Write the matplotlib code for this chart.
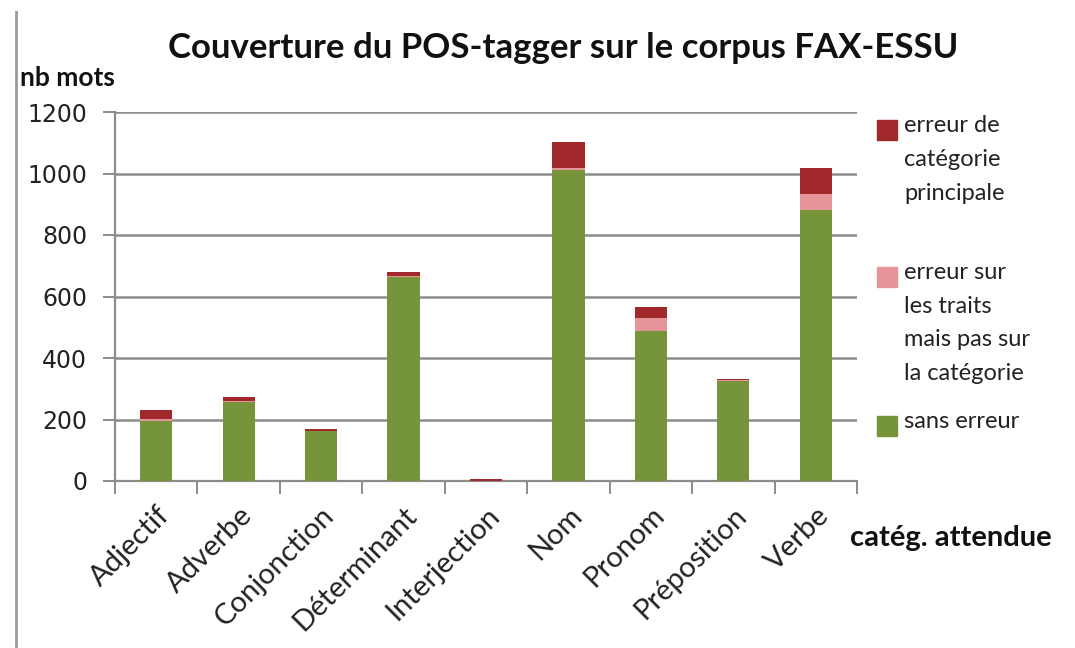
import matplotlib
matplotlib.use("Agg")
import matplotlib.pyplot as plt
from matplotlib.patches import Rectangle
from matplotlib.lines import Line2D
import numpy as np

categories = ["Adjectif", "Adverbe", "Conjonction", "Déterminant", "Interjection",
              "Nom", "Pronom", "Préposition", "Verbe"]
sans_erreur = [195, 258, 163, 663, 0, 1010, 488, 325, 880]
erreur_traits = [8, 2, 1, 3, 0, 8, 43, 2, 52]
erreur_categorie = [27, 12, 5, 15, 6, 85, 35, 5, 85]

series_labels = ["erreur de\ncatégorie\nprincipale",
                 "erreur sur\nles traits\nmais pas sur\nla catégorie",
                 "sans erreur"]
col_green = "#76953a"
col_pink = "#e5949a"
col_red = "#a2292b"

plt.rcParams['font.family'] = ['Lato', 'DejaVu Sans']

fig = plt.figure(figsize=(10.75, 6.48), dpi=100)
W, H = 1075, 648
ax = fig.add_axes([115 / W, 1 - 481 / H, (857 - 115) / W, (481 - 112) / H])

x = np.arange(len(categories))
bw = 0.39
g = np.array(sans_erreur)
p = np.array(erreur_traits)
r = np.array(erreur_categorie)
ax.bar(x, g, bw, color=col_green, zorder=3)
ax.bar(x, p, bw, bottom=g, color=col_pink, zorder=3)
ax.bar(x, r, bw, bottom=g + p, color=col_red, zorder=3)

ax.set_xlim(-0.5, len(categories) - 0.5)
ax.set_ylim(0, 1200)
ax.set_yticks(np.arange(0, 1201, 200))
ax.yaxis.grid(True, color="#8c8c8c", linewidth=1.8, zorder=0)
ax.set_axisbelow(True)
for s in ["top", "right"]:
    ax.spines[s].set_visible(False)
ax.spines["left"].set_color("#8c8c8c")
ax.spines["left"].set_linewidth(1.6)
ax.spines["bottom"].set_color("#8c8c8c")
ax.spines["bottom"].set_linewidth(1.6)

ax.tick_params(axis="y", length=9, width=1.4, color="#8c8c8c", labelsize=17,
               labelcolor="#222222", pad=11)
for t in ax.get_yticklabels():
    t.set_family("DejaVu Sans")

ax.set_xticks(x)
ax.set_xticklabels(categories, rotation=45, ha="right", rotation_mode="anchor",
                   fontsize=21, color="#222222")
ax.tick_params(axis="x", which="major", length=0, pad=15)
ax.set_xticks(np.arange(-0.5, len(categories), 1.0), minor=True)
ax.tick_params(axis="x", which="minor", length=9, width=1.4, color="#8c8c8c")

fig.text(563 / W, 1 - 48 / H, "Couverture du POS-tagger sur le corpus FAX-ESSU",
         ha="center", va="center", fontsize=25, fontweight="bold", color="#111111")
fig.text(20 / W, 1 - 78 / H, "nb mots", ha="left", va="center",
         fontsize=19, fontweight="bold", color="#111111")
fig.text(850 / W, 1 - 538 / H, "catég. attendue", ha="left", va="center",
         fontsize=21, fontweight="bold", color="#111111")

# legend
leg_items = [(col_red, series_labels[0], 130),
             (col_pink, series_labels[1], 277),
             (col_green, series_labels[2], 426)]
for c, lab, yy in leg_items:
    fig.patches.append(Rectangle((877 / W, 1 - (yy + 10) / H), 20 / W, 20 / H,
                                 transform=fig.transFigure, color=c))
    fig.text(904 / W, 1 - (yy - 15) / H, lab, ha="left", va="top",
             fontsize=17, color="#222222", linespacing=1.75)

# left border line
fig.add_artist(Line2D([16 / W, 16 / W], [0, 1 - 12 / H], transform=fig.transFigure,
                      color="#9a9a9a", linewidth=2))

fig.savefig("out.png", dpi=100, facecolor="white")
